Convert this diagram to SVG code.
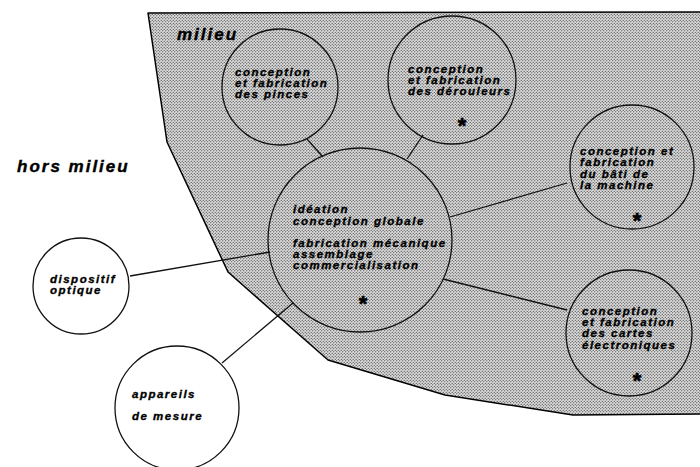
<svg xmlns="http://www.w3.org/2000/svg" width="700" height="467" viewBox="0 0 700 467">
  <defs>
    <!-- halftone dot screen for the "milieu" zone -->
    <pattern id="screen" width="3" height="3" patternUnits="userSpaceOnUse">
      <rect width="3" height="3" fill="#dcdcdc"/>
      <circle cx="0.75" cy="0.75" r="0.62" fill="#2a2a2a"/>
      <circle cx="2.25" cy="2.25" r="0.62" fill="#2a2a2a"/>
    </pattern>
  </defs>
  <style>
    .zone { fill: url(#screen); stroke: #000; stroke-width: 1.5; stroke-linejoin: round; }
    .node circle { stroke: #111; stroke-width: 1.3; }
    .in circle { fill: none; }
    .out circle { fill: #fff; }
    .lbl { font-family: "Liberation Sans", Arial, sans-serif; font-weight: bold; font-style: italic; font-size: 11.5px; letter-spacing: 1.5px; fill: #000; stroke: #000; stroke-width: 0.35px; }
    .big { font-family: "Liberation Sans", Arial, sans-serif; font-weight: bold; font-style: italic; font-size: 17px; letter-spacing: 2px; fill: #000; stroke: #000; stroke-width: 0.4px; }
    .star { font-family: "Liberation Sans", Arial, sans-serif; font-weight: bold; font-size: 22px; fill: #000; stroke: #000; stroke-width: 0.6px; text-anchor: middle; }
    #links line { stroke: #111; stroke-width: 1.3; }
  </style>

  <rect width="700" height="467" fill="#fff"/>

  <!-- shaded zone -->
  <polygon class="zone" points="148,13 703,12 703,414 573,415 445,395 328,360 228,272 167,142"/>

  <text class="big" x="17" y="172">hors milieu</text>
  <text class="big" x="177" y="40">milieu</text>

  <!-- connectors -->
  <g id="links">
    <line x1="307" y1="139" x2="323" y2="157"/>
    <line x1="423" y1="135" x2="407" y2="159"/>
    <line x1="450" y1="217" x2="567" y2="183"/>
    <line x1="443" y1="279" x2="567" y2="310"/>
    <line x1="130" y1="276" x2="270" y2="252"/>
    <line x1="222" y1="363" x2="293" y2="303"/>
  </g>

  <g id="pinces" class="node in">
    <circle cx="280" cy="87" r="58"/>
    <text class="lbl" x="235" y="76">conception</text>
    <text class="lbl" x="235" y="87">et fabrication</text>
    <text class="lbl" x="235" y="98">des pinces</text>
  </g>

  <g id="derouleurs" class="node in">
    <circle cx="452" cy="80" r="64"/>
    <text class="lbl" x="408" y="73">conception</text>
    <text class="lbl" x="408" y="84">et fabrication</text>
    <text class="lbl" x="408" y="95">des dérouleurs</text>
    <text class="star" x="462" y="133">*</text>
  </g>

  <g id="central" class="node in">
    <circle cx="360" cy="240" r="92"/>
    <text class="lbl" x="293" y="213">idéation</text>
    <text class="lbl" x="293" y="225">conception globale</text>
    <text class="lbl" x="293" y="247">fabrication mécanique</text>
    <text class="lbl" x="293" y="258">assemblage</text>
    <text class="lbl" x="293" y="269">commercialisation</text>
    <text class="star" x="363" y="311">*</text>
  </g>

  <g id="bati" class="node in">
    <circle cx="632" cy="167" r="62"/>
    <text class="lbl" x="580" y="155">conception et</text>
    <text class="lbl" x="580" y="166">fabrication</text>
    <text class="lbl" x="580" y="178">du bâti de</text>
    <text class="lbl" x="580" y="189">la machine</text>
    <text class="star" x="637" y="228">*</text>
  </g>

  <g id="cartes" class="node in">
    <circle cx="629" cy="333" r="63"/>
    <text class="lbl" x="582" y="315">conception</text>
    <text class="lbl" x="582" y="326">et fabrication</text>
    <text class="lbl" x="582" y="337">des cartes</text>
    <text class="lbl" x="582" y="349">électroniques</text>
    <text class="star" x="637" y="388">*</text>
  </g>

  <g id="optique" class="node out">
    <circle cx="81" cy="286" r="48"/>
    <text class="lbl" x="50" y="283">dispositif</text>
    <text class="lbl" x="50" y="294">optique</text>
  </g>

  <g id="mesure" class="node out">
    <circle cx="177" cy="408" r="62"/>
    <text class="lbl" x="132" y="398">appareils</text>
    <text class="lbl" x="132" y="420">de mesure</text>
  </g>
</svg>
